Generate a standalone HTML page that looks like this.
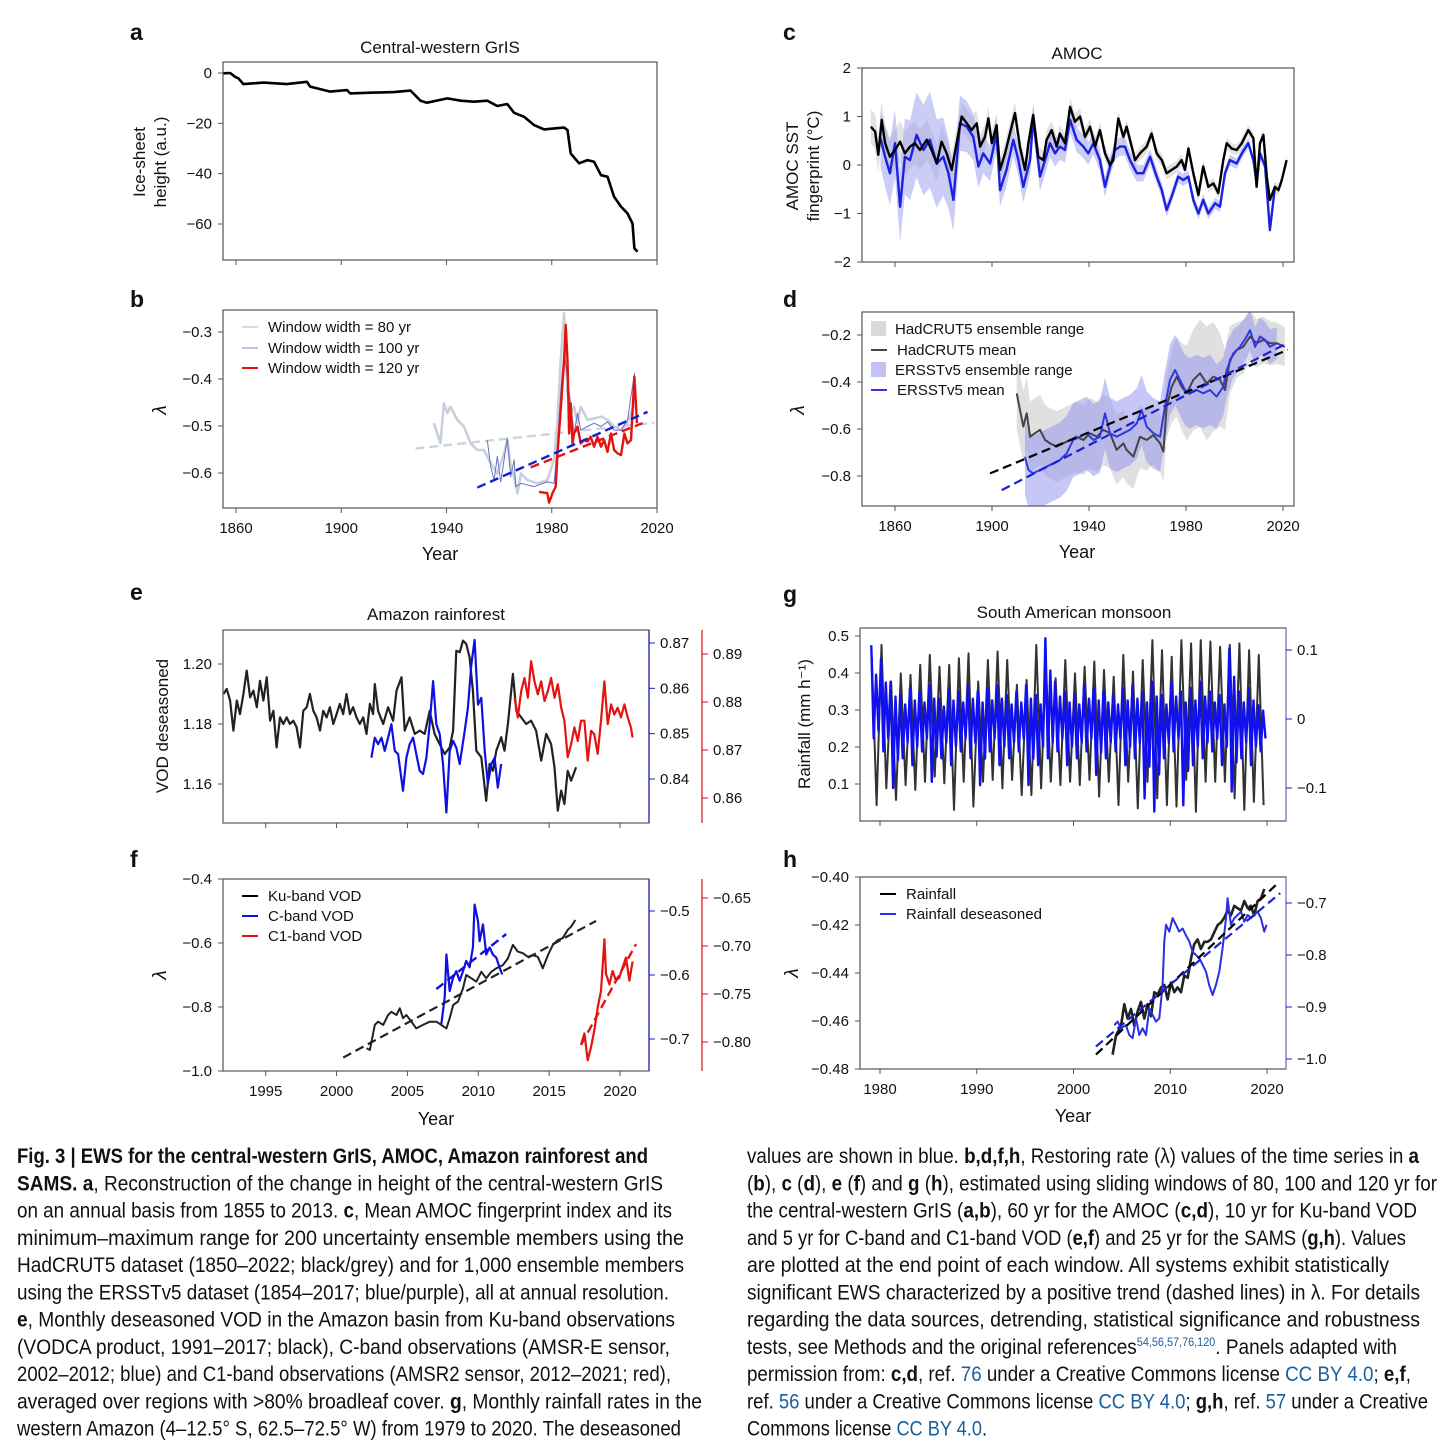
<!DOCTYPE html>
<html><head><meta charset="utf-8"><style>
html,body{margin:0;padding:0;background:#fff;}
svg{display:block;}
.tk{font-family:"Liberation Sans",sans-serif;font-size:15px;fill:#111;}
.cap{font-family:"Liberation Sans Narrow","Liberation Sans",sans-serif;font-size:21px;fill:#111;}
.lnk{fill:#1a5fa0;}
</style></head><body>
<svg id="fig" width="1456" height="1447" viewBox="0 0 1456 1447" xmlns="http://www.w3.org/2000/svg"></svg>
<script>
// ---- Panel a: ice-sheet height ----
const aYears=[1855.2,1857.8,1859.6,1860.9,1862.8,1870.4,1879.3,1886.9,1888.2,1895.8,1902.2,1903.4,1912.3,1920,1926.3,1930.1,1932.6,1940.3,1945.4,1950.4,1955.5,1959.3,1963.1,1965.7,1969.5,1973.3,1977.1,1980.9,1984.7,1986,1987.2,1990.4,1993.6,1996.1,1998.7,2001.2,2003.7,2006.3,2008.8,2010.7,2011.4,2012.6];
const aVals=[-0.1,0,-1.5,-2.1,-4.4,-3.8,-4.4,-3.5,-5.4,-7.4,-6.8,-8.1,-7.8,-7.6,-7.0,-11,-11.8,-10.1,-11,-11.4,-11,-13.1,-12.3,-15.8,-17.4,-20.7,-22.4,-22,-21.7,-22.7,-32,-35.9,-34.6,-35.3,-40.6,-41.2,-49.2,-53.1,-55.8,-59.8,-69.7,-71];
const aYTicks=[0,-20,-40,-60];
// ---- Panel b ----
const bGreyYears=[1935.2,1937.7,1939,1940.3,1941.5,1944.1,1946.6,1949.2,1951.7,1954.2,1956.8,1959.3,1961.9,1963.1,1964.4,1965.7,1967,1968.3,1970.8,1974.6,1978.3,1980.9,1982.2,1983.4,1984.7,1986,1987.2,1988.5,1989.8,1991,1993.6,1996.1,1998.7,2001.2,2003.7,2006.3,2008.8,2011.4];
const bGreyVals=[-0.494,-0.537,-0.452,-0.473,-0.459,-0.487,-0.501,-0.537,-0.551,-0.551,-0.579,-0.601,-0.558,-0.530,-0.587,-0.608,-0.643,-0.601,-0.615,-0.622,-0.615,-0.572,-0.487,-0.360,-0.260,-0.430,-0.473,-0.459,-0.494,-0.459,-0.487,-0.484,-0.480,-0.487,-0.501,-0.509,-0.494,-0.452];
const bBlueYears=[1955.5,1956.8,1958.1,1959.3,1960.6,1961.9,1963.1,1964.4,1965.7,1966.3,1968.3,1973.3,1978.3,1980.9,1982.2,1983.4,1984.7,1986,1987.2,1988.5,1989.8,1991,1993.6,1996.1,1998.7,2001.2,2003.7,2006.3,2008.8,2011.4,2012.4];
const bBlueVals=[-0.530,-0.587,-0.615,-0.565,-0.619,-0.572,-0.526,-0.608,-0.572,-0.629,-0.622,-0.629,-0.619,-0.622,-0.537,-0.430,-0.338,-0.402,-0.452,-0.516,-0.473,-0.509,-0.501,-0.494,-0.501,-0.491,-0.509,-0.509,-0.487,-0.388,-0.487];
const bRedYears=[1975.2,1978.3,1979,1980.3,1981.5,1982.2,1983.4,1984.7,1985.3,1986,1986.6,1987.2,1987.9,1988.5,1989.8,1991.0,1992.3,1993.6,1994.8,1996.1,1997.4,1998.7,1999.9,2001.2,2002.5,2003.7,2005.0,2006.3,2007.6,2008.8,2010.1,2011.4,2012.4];
const bRedVals=[-0.640,-0.643,-0.663,-0.643,-0.629,-0.558,-0.466,-0.360,-0.285,-0.360,-0.516,-0.452,-0.537,-0.516,-0.501,-0.537,-0.530,-0.533,-0.523,-0.544,-0.523,-0.544,-0.530,-0.555,-0.516,-0.551,-0.558,-0.562,-0.516,-0.537,-0.530,-0.395,-0.494];
const bTrendGrey=[[1928.2,-0.548],[2019,-0.493]];
const bTrendBlue=[[1951.7,-0.631],[2016.4,-0.470]];
const bTrendRed=[[1972,-0.588],[2014.5,-0.494]];
const bYTicks=[-0.3,-0.4,-0.5,-0.6];
const abXTicks=[1860,1900,1940,1980,2020];
// ---- Panel c ----
const cHadYears=[1850,1851.8,1853.1,1854.5,1855.9,1857.9,1860,1862.1,1864.1,1866.2,1868.2,1870.3,1873.1,1875.1,1877.2,1879.2,1881.3,1883.4,1885.4,1887.5,1889.6,1891.6,1893.7,1895.1,1897.1,1898.5,1899.9,1901.9,1903.3,1905.4,1907.4,1909.5,1911.5,1913.6,1915,1917,1919.1,1921.2,1922.5,1924.6,1926.7,1928,1930.1,1932.2,1934.2,1936.3,1938.4,1940.4,1942.5,1944.5,1946.6,1948.7,1950,1952.1,1954.2,1955.5,1957.6,1959,1961,1963.8,1965.8,1967.9,1970,1972,1974.1,1976.2,1978.2,1979.6,1981,1983,1985.1,1987.1,1989.2,1991.3,1993.3,1995.4,1996.8,1998.8,2000.9,2003,2005.7,2007.8,2009.1,2010.5,2011.9,2013.3,2014.6,2016.7,2018.1,2019.5,2021.5];
const cHadVals=[0.79,0.69,0.21,0.93,0.45,0.17,0.31,0.48,0.24,0.38,0.45,0.31,0.52,0.31,0.03,0.48,0.24,-0.10,0.45,1.00,0.86,0.72,0.86,0.38,0.58,0.96,0.45,0.82,-0.10,0.24,0.65,1.07,0.38,-0.10,0.45,1.03,0.17,0.10,0.52,0.72,0.38,0.65,0.45,1.20,0.89,1.00,0.58,0.79,0.38,0.72,0.24,0.00,0.10,0.96,0.58,0.79,0.38,0.10,0.24,0.38,0.65,0.24,0.10,-0.17,-0.10,-0.03,0.10,-0.10,0.34,-0.17,-0.62,-0.03,-0.45,-0.38,-0.58,0.10,0.45,0.34,0.31,0.45,0.72,0.55,-0.45,0.45,0.62,-0.24,-0.72,-0.45,-0.52,-0.31,0.10];
const cErsYears=[1854,1855.9,1857.9,1860,1862.1,1864.1,1866.2,1868.9,1871.7,1874.4,1877.2,1879.9,1882,1884.1,1886.8,1889.6,1892.3,1894.4,1896.4,1899.2,1901.9,1903.3,1906,1908.8,1910.9,1912.9,1915.7,1917,1919.8,1921.9,1923.9,1926,1928,1930.1,1932.2,1934.9,1937.7,1939.7,1941.8,1944.5,1946.6,1948.7,1950.7,1952.8,1954.8,1956.9,1959.7,1962.4,1965.2,1967.9,1970,1972,1974.1,1976.8,1978.9,1981,1983,1985.1,1987.1,1989.2,1992,1994,1996.1,1998.1,2000.9,2003,2005.7,2007.8,2009.1,2010.5,2012.6,2014.6,2016.7];
const cErsVals=[0.55,0.17,-0.17,0.45,-0.86,0.17,0.10,0.62,0.31,0.52,0.03,0.17,-0.17,-0.72,0.86,0.79,0.58,-0.03,0.24,0.03,0.65,-0.52,-0.10,0.52,0.10,-0.45,0.10,0.96,-0.24,0.10,0.45,0.24,0.38,0.31,0.93,0.52,0.38,0.24,0.45,0.10,-0.45,-0.03,0.31,0.38,0.38,0.10,-0.17,-0.17,0.17,-0.24,-0.52,-0.93,-0.65,-0.24,-0.31,-0.24,-0.72,-1.00,-0.72,-1.00,-0.79,-0.86,-0.17,0.10,0.03,0.24,0.45,0.10,-0.38,0.24,-0.03,-1.34,-0.45];
const cSpreadYears=[1850,1865,1875,1885,1900,1920,1950,1980,2022];
const cHadSpread=[0.35,0.45,0.4,0.3,0.25,0.2,0.15,0.12,0.1];
const cErsSpread=[0.5,0.8,1.0,0.6,0.35,0.3,0.2,0.12,0.1];
const cYTicks=[2,1,0,-1,-2];
// ---- Panel d ----
const dHadYears=[1910.2,1912.9,1914.3,1915.7,1917.7,1919.8,1921.9,1923.9,1926.7,1929.4,1932.2,1934.9,1937.7,1940.4,1943.2,1945.9,1948.7,1951.4,1954.2,1955.5,1958.3,1961,1963.8,1966.5,1969.3,1970.7,1972,1974.1,1976.2,1978.2,1980.3,1983,1985.8,1988.5,1991.3,1994,1996.1,1998.1,2000.9,2003.6,2006.4,2009.1,2011.9,2014.6,2017.4,2020.8];
const dHadVals=[-0.448,-0.590,-0.533,-0.633,-0.618,-0.604,-0.647,-0.661,-0.675,-0.661,-0.647,-0.633,-0.647,-0.618,-0.633,-0.604,-0.618,-0.689,-0.661,-0.689,-0.718,-0.633,-0.647,-0.626,-0.661,-0.696,-0.505,-0.420,-0.377,-0.420,-0.448,-0.391,-0.363,-0.406,-0.377,-0.391,-0.434,-0.306,-0.264,-0.250,-0.207,-0.235,-0.221,-0.235,-0.235,-0.250];
const dErsYears=[1913.6,1915,1917,1919.8,1922.5,1925.3,1928,1930.8,1933.5,1936.3,1939,1941.8,1944.5,1946.6,1948.7,1951.4,1954.2,1956.9,1959.7,1961.7,1963.8,1966.5,1969.3,1971.3,1973.4,1975.5,1977.5,1979.6,1981.6,1984.4,1987.1,1989.9,1992.6,1995.4,1996.8,1999.5,2002.3,2005,2006.4,2008.5,2010.5,2012.6,2014.6,2017.4];
const dErsVals=[-0.718,-0.774,-0.789,-0.774,-0.760,-0.746,-0.732,-0.704,-0.647,-0.633,-0.618,-0.647,-0.633,-0.533,-0.618,-0.633,-0.618,-0.604,-0.576,-0.519,-0.590,-0.618,-0.633,-0.505,-0.391,-0.349,-0.391,-0.434,-0.448,-0.434,-0.448,-0.434,-0.462,-0.420,-0.349,-0.278,-0.250,-0.207,-0.179,-0.250,-0.207,-0.221,-0.250,-0.235];
const dSpreadYears=[1910,1930,1950,1970,1980,1990,2000,2022];
const dHadSpread=[0.15,0.15,0.15,0.12,0.2,0.25,0.12,0.08];
const dErsSpread=[0.16,0.16,0.15,0.15,0.15,0.15,0.1,0.06];
const dTrendHad=[[1899.2,-0.789],[2022,-0.263]];
const dTrendErs=[[1904,-0.860],[2022,-0.233]];
const dYTicks=[-0.2,-0.4,-0.6,-0.8];
const cdXTicks=[1860,1900,1940,1980,2020];
// ---- Panel e ----
const eKuYears=[1992.02,1992.25,1992.49,1992.72,1992.96,1993.19,1993.43,1993.66,1993.90,1994.13,1994.37,1994.60,1994.84,1995.07,1995.31,1995.54,1995.77,1996.01,1996.24,1996.48,1996.71,1996.95,1997.18,1997.42,1997.65,1997.89,1998.12,1998.36,1998.59,1998.83,1999.06,1999.30,1999.53,1999.77,2000.00,2000.23,2000.47,2000.70,2000.94,2001.17,2001.41,2001.64,2001.88,2002.11,2002.35,2002.58,2002.70,2002.93,2003.29,2003.64,2003.99,2004.23,2004.58,2004.81,2005.16,2005.52,2005.87,2006.22,2006.57,2006.92,2007.28,2007.63,2007.98,2008.22,2008.45,2008.69,2008.92,2009.15,2009.39,2009.62,2009.86,2010.21,2010.56,2010.80,2011.03,2011.27,2011.62,2011.85,2012.09,2012.44,2012.68,2013.03,2013.38,2013.73,2014.08,2014.44,2014.79,2015.14,2015.38,2015.61,2015.85,2016.08,2016.31,2016.55,2016.90];
const eKuVals=[1.1900,1.1917,1.1878,1.1778,1.1878,1.1833,1.19,1.1978,1.1889,1.1911,1.1856,1.1944,1.1878,1.1956,1.1811,1.1844,1.1722,1.1822,1.18,1.1822,1.18,1.1811,1.1789,1.1722,1.1844,1.1856,1.19,1.1844,1.1822,1.1778,1.1844,1.1822,1.1856,1.18,1.1833,1.1867,1.1833,1.19,1.1833,1.1856,1.1822,1.18,1.1822,1.1767,1.1867,1.1833,1.1933,1.1844,1.18,1.1856,1.1811,1.1911,1.1956,1.1778,1.1822,1.1767,1.1778,1.1767,1.1844,1.1767,1.1733,1.17,1.1722,1.1778,1.2044,1.2039,1.2078,1.2067,1.2022,1.1911,1.1711,1.1689,1.1544,1.1667,1.1644,1.1711,1.1756,1.1711,1.18,1.1967,1.1844,1.1822,1.18,1.1811,1.1778,1.1678,1.1767,1.1733,1.1656,1.1511,1.1578,1.1533,1.1644,1.1611,1.1656];
const eCYears=[2002.46,2002.70,2002.93,2003.17,2003.40,2003.64,2003.87,2004.11,2004.34,2004.69,2004.93,2005.16,2005.40,2005.63,2005.87,2006.10,2006.34,2006.57,2006.81,2007.04,2007.28,2007.51,2007.75,2007.98,2008.22,2008.45,2008.69,2009.04,2009.27,2009.51,2009.74,2009.98,2010.21,2010.45,2010.68,2010.92,2011.15,2011.38,2011.62];
const eCVals=[0.8447,0.8491,0.8477,0.8491,0.8462,0.8491,0.8521,0.8462,0.8455,0.8374,0.8447,0.8477,0.8491,0.8455,0.8418,0.8411,0.8447,0.8521,0.8616,0.8521,0.8499,0.8433,0.8326,0.8462,0.8484,0.8469,0.8433,0.8506,0.8557,0.8652,0.8707,0.8564,0.8579,0.8462,0.8389,0.8433,0.8447,0.8381,0.8433];
const eC1Years=[2012.56,2012.79,2013.03,2013.26,2013.50,2013.73,2013.97,2014.20,2014.44,2014.67,2014.91,2015.14,2015.38,2015.61,2015.85,2016.08,2016.31,2016.55,2016.78,2017.02,2017.25,2017.49,2017.72,2017.96,2018.19,2018.43,2018.66,2018.90,2019.13,2019.37,2019.60,2019.84,2020.07,2020.31,2020.54,2020.77,2020.89];
const eC1Vals=[0.8809,0.8768,0.8823,0.8850,0.8809,0.8885,0.8843,0.8816,0.8843,0.8802,0.8823,0.8850,0.8809,0.8837,0.8788,0.8761,0.8685,0.8712,0.8747,0.8719,0.8761,0.8761,0.8678,0.8740,0.8733,0.8692,0.8761,0.8843,0.8754,0.8795,0.8774,0.8788,0.8768,0.8795,0.8768,0.8747,0.8726];
const eYTicks=[1.20,1.18,1.16];
const eBlueTicks=[0.87,0.86,0.85,0.84];
const eRedTicks=[0.89,0.88,0.87,0.86];
// ---- Panel f ----
const fKuYears=[2002.11,2002.35,2002.70,2002.93,2003.29,2003.64,2003.87,2004.23,2004.46,2004.69,2004.93,2005.28,2005.63,2006.10,2006.57,2007.04,2007.39,2007.75,2007.98,2008.22,2008.57,2008.92,2009.15,2009.51,2009.86,2010.21,2010.56,2010.92,2011.27,2011.74,2012.09,2012.44,2012.79,2013.15,2013.50,2013.85,2014.20,2014.55,2014.91,2015.26,2015.61,2015.96,2016.31,2016.55,2016.85];
const fKuVals=[-0.929,-0.934,-0.856,-0.846,-0.856,-0.825,-0.815,-0.825,-0.804,-0.835,-0.825,-0.846,-0.867,-0.856,-0.846,-0.846,-0.856,-0.867,-0.835,-0.794,-0.783,-0.742,-0.700,-0.710,-0.721,-0.690,-0.710,-0.690,-0.679,-0.669,-0.648,-0.606,-0.627,-0.632,-0.643,-0.638,-0.643,-0.679,-0.638,-0.606,-0.591,-0.585,-0.559,-0.549,-0.528];
const fCYears=[2007.39,2007.63,2007.75,2007.98,2008.22,2008.45,2008.69,2008.92,2009.15,2009.39,2009.62,2009.74,2009.98,2010.09,2010.33,2010.56,2010.80,2011.03,2011.27,2011.50,2011.69];
const fCVals=[-0.677,-0.635,-0.568,-0.625,-0.604,-0.594,-0.609,-0.594,-0.578,-0.588,-0.557,-0.490,-0.516,-0.547,-0.521,-0.568,-0.557,-0.568,-0.573,-0.588,-0.599];
const fC1Years=[2017.25,2017.49,2017.72,2017.96,2018.19,2018.43,2018.66,2018.90,2019.01,2019.25,2019.48,2019.72,2019.95,2020.19,2020.42,2020.66,2020.89];
const fC1Vals=[-0.803,-0.791,-0.819,-0.805,-0.788,-0.764,-0.747,-0.693,-0.729,-0.740,-0.726,-0.736,-0.733,-0.722,-0.712,-0.736,-0.716];
const fTrendKu=[[2000.47,-0.958],[2018.31,-0.531]];
const fTrendC=[[2007.04,-0.622],[2011.97,-0.536]];
const fTrendC1=[[2017.25,-0.803],[2021.13,-0.698]];
const fYTicks=[-0.4,-0.6,-0.8,-1.0];
const fBlueTicks=[-0.5,-0.6,-0.7];
const fRedTicks=[-0.65,-0.70,-0.75,-0.80];
const efXTicks=[1995,2000,2005,2010,2015,2020];
// ---- Panel g ----
const gYears=[1979,1980,1981,1982,1983,1984,1985,1986,1987,1988,1989,1990,1991,1992,1993,1994,1995,1996,1997,1998,1999,2000,2001,2002,2003,2004,2005,2006,2007,2008,2009,2010,2011,2012,2013,2014,2015,2016,2017,2018,2019];
const gPeak=[0.444,0.476,0.377,0.399,0.395,0.422,0.449,0.417,0.422,0.440,0.453,0.377,0.435,0.458,0.435,0.368,0.381,0.476,0.422,0.386,0.435,0.399,0.417,0.431,0.408,0.390,0.449,0.404,0.435,0.489,0.462,0.444,0.489,0.480,0.489,0.485,0.471,0.476,0.480,0.462,0.449];
const gTrough=[0.043,0.088,0.057,0.097,0.084,0.106,0.120,0.102,0.030,0.106,0.039,0.106,0.111,0.088,0.111,0.070,0.070,0.088,0.106,0.097,0.106,0.097,0.111,0.066,0.106,0.043,0.106,0.034,0.106,0.061,0.043,0.039,0.111,0.025,0.106,0.106,0.106,0.061,0.030,0.052,0.043];
const gDesHigh=[0.107,0.088,0.054,0.035,0.045,0.040,0.049,0.030,0.045,0.040,0.049,0.040,0.045,0.049,0.035,0.040,0.049,0.035,0.117,0.054,0.040,0.035,0.049,0.045,0.040,0.035,0.045,0.049,0.040,0.054,0.035,0.054,0.040,0.045,0.054,0.040,0.035,0.102,0.040,0.045,0.020];
const gDesLow=[-0.028,-0.047,-0.100,-0.057,-0.067,-0.047,-0.091,-0.057,-0.067,-0.047,-0.057,-0.096,-0.047,-0.067,-0.057,-0.047,-0.096,-0.067,-0.057,-0.047,-0.067,-0.057,-0.047,-0.081,-0.057,-0.047,-0.067,-0.057,-0.115,-0.134,-0.057,-0.047,-0.125,-0.067,-0.057,-0.047,-0.067,-0.105,-0.057,-0.067,-0.047];
const gYTicks=[0.5,0.4,0.3,0.2,0.1];
const gBlueTicks=[0.1,0,-0.1];
// ---- Panel h ----
const hRainYears=[2004.04,2004.39,2004.91,2005.25,2005.59,2005.94,2006.28,2006.63,2006.97,2007.32,2007.66,2008.01,2008.35,2008.69,2009.04,2009.38,2009.73,2010.07,2010.42,2010.76,2011.11,2011.45,2011.80,2012.14,2012.48,2012.83,2013.17,2013.52,2013.86,2014.21,2014.55,2014.90,2015.24,2015.58,2015.93,2016.27,2016.62,2016.96,2017.31,2017.65,2018.00,2018.34,2018.68,2019.03,2019.37,2019.72];
const hRainVals=[-0.474,-0.466,-0.462,-0.453,-0.459,-0.455,-0.462,-0.456,-0.452,-0.459,-0.453,-0.458,-0.448,-0.449,-0.446,-0.445,-0.451,-0.444,-0.448,-0.446,-0.448,-0.441,-0.442,-0.434,-0.428,-0.426,-0.430,-0.427,-0.427,-0.426,-0.423,-0.420,-0.419,-0.417,-0.414,-0.416,-0.412,-0.413,-0.414,-0.410,-0.413,-0.412,-0.416,-0.410,-0.409,-0.405];
const hDesYears=[2004.22,2004.56,2004.91,2005.42,2005.77,2006.11,2006.46,2006.80,2007.14,2007.49,2007.83,2008.18,2008.52,2008.87,2009.21,2009.38,2009.56,2009.90,2010.24,2010.59,2010.93,2011.28,2011.62,2011.97,2012.31,2012.66,2013.00,2013.35,2013.69,2014.03,2014.38,2014.72,2015.07,2015.41,2015.76,2015.93,2016.27,2016.62,2016.96,2017.31,2017.65,2018.00,2018.34,2018.68,2019.03,2019.37,2019.72,2019.96];
const hDesVals=[-0.935,-0.928,-0.941,-0.935,-0.954,-0.960,-0.922,-0.954,-0.941,-0.954,-0.903,-0.915,-0.928,-0.922,-0.858,-0.774,-0.742,-0.755,-0.729,-0.742,-0.755,-0.749,-0.762,-0.774,-0.794,-0.800,-0.806,-0.819,-0.832,-0.858,-0.877,-0.858,-0.832,-0.787,-0.729,-0.691,-0.742,-0.729,-0.723,-0.717,-0.736,-0.723,-0.729,-0.723,-0.717,-0.729,-0.755,-0.742];
const hTrendRain=[[2002.32,-0.474],[2021.27,-0.402]];
const hTrendDes=[[2002.32,-0.976],[2021.37,-0.681]];
const hYTicks=[-0.40,-0.42,-0.44,-0.46,-0.48];
const hBlueTicks=[-0.7,-0.8,-0.9,-1.0];
const ghXTicks=[1980,1990,2000,2010,2020];

const NS='http://www.w3.org/2000/svg';
const svg=document.getElementById('fig');
function scale(d0,d1,r0,r1){return v=>r0+(v-d0)*(r1-r0)/(d1-d0);}
function mk(tag,parent,name,attrs){
  const el=document.createElementNS(NS,tag);
  
  
  for(const k in attrs) el.setAttribute(k,attrs[k]);
  (parent||svg).appendChild(el);return el;
}
function txt(parent,name,x,y,s,attrs){const t=mk('text',parent,name,Object.assign({x:x,y:y},attrs||{}));t.textContent=s;return t;}
function interp(xs,ys,x){if(x<=xs[0])return ys[0];for(let i=1;i<xs.length;i++){if(x<=xs[i]){const f=(x-xs[i-1])/(xs[i]-xs[i-1]);return ys[i-1]+f*(ys[i]-ys[i-1]);}}return ys[ys.length-1];}
function fmt(v,d){if(Math.abs(v)<1e-9)return '0';let s=v.toFixed(d);return s.replace('-','\u2212');}

let clipN=0;
function panel(name,box){
  const g=mk('g',null,name,{});
  const id='clip'+(clipN++);
  const cp=mk('clipPath',g,name+'-clip',{id:id});
  mk('rect',cp,name+'-clip-rect',{x:box.x0,y:box.y0,width:box.x1-box.x0,height:box.y1-box.y0});
  const plot=mk('g',g,name+'-plot-area',{'clip-path':'url(#'+id+')'});
  return {g:g,plot:plot,box:box};
}
function frame(P,rightColor){
  const b=P.box;
  mk('rect',P.g,'plot-frame',{x:b.x0,y:b.y0,width:b.x1-b.x0,height:b.y1-b.y0,fill:'none',stroke:'#555','stroke-width':1.2});
  if(rightColor) mk('line',P.g,'right-axis-line',{x1:b.x1,y1:b.y0,x2:b.x1,y2:b.y1,stroke:rightColor,'stroke-width':1.2});
}
function yAxis(P,ticks,sy,dec){
  ticks.forEach(v=>{const y=sy(v);
    mk('line',P.g,'y-tick',{x1:P.box.x0-5,y1:y,x2:P.box.x0,y2:y,stroke:'#555','stroke-width':1});
    txt(P.g,'y-tick-label',P.box.x0-11,y+5,fmt(v,dec),{class:'tk','text-anchor':'end'});});
}
function xAxis(P,ticks,sx,labels){
  ticks.forEach(v=>{const x=sx(v);
    mk('line',P.g,'x-tick',{x1:x,y1:P.box.y1,x2:x,y2:P.box.y1+5,stroke:'#555','stroke-width':1});
    if(labels) txt(P.g,'x-tick-label',x,P.box.y1+25,String(v),{class:'tk','text-anchor':'middle'});});
}
function rAxis(P,ax,ticks,sy,dec,color){
  if(ax!==P.box.x1) mk('line',P.g,'secondary-axis-line',{x1:ax,y1:P.box.y0,x2:ax,y2:P.box.y1,stroke:color,'stroke-width':1.2});
  ticks.forEach(v=>{const y=sy(v);
    mk('line',P.g,'secondary-tick',{x1:ax,y1:y,x2:ax+6,y2:y,stroke:color,'stroke-width':1});
    txt(P.g,'secondary-tick-label',ax+11,y+5,fmt(v,dec),{class:'tk','text-anchor':'start',fill:color});});
}
function series(P,name,xs,ys,sx,sy,color,w,dash){
  const pts=xs.map((x,i)=>sx(x).toFixed(1)+','+sy(ys[i]).toFixed(1)).join(' ');
  const a={points:pts,fill:'none',stroke:color,'stroke-width':w,'stroke-linejoin':'round'};
  if(dash) a['stroke-dasharray']=dash;
  return mk('polyline',P.plot,name,a);
}
function trend(P,name,seg,sx,sy,color,w){
  return mk('line',P.plot,name,{x1:sx(seg[0][0]),y1:sy(seg[0][1]),x2:sx(seg[1][0]),y2:sy(seg[1][1]),stroke:color,'stroke-width':w||2.2,'stroke-dasharray':'9,5'});
}
function band(P,name,xs,ys,sYears,spread,sx,sy,color,op){
  const up=xs.map((x,i)=>sx(x).toFixed(1)+','+sy(ys[i]+interp(sYears,spread,x)).toFixed(1));
  const lo=xs.map((x,i)=>sx(x).toFixed(1)+','+sy(ys[i]-interp(sYears,spread,x)).toFixed(1)).reverse();
  return mk('polygon',P.plot,name,{points:up.concat(lo).join(' '),fill:color,'fill-opacity':op,stroke:'none'});
}
function letter(s,x,y){txt(null,'panel-label-'+s,x,y,s,{'font-family':'Liberation Sans,sans-serif','font-size':'23','font-weight':'bold',fill:'#111'});}
function title(s,x,y){txt(null,'panel-title',x,y,s,{'font-family':'Liberation Sans,sans-serif','font-size':'17',fill:'#111','text-anchor':'middle'});}
function ylab(lines,x,y,name,italic){
  const t=mk('text',null,name,{transform:'translate('+x+','+y+') rotate(-90)','font-family':'Liberation Sans,sans-serif','font-size':italic?'19':'17',fill:'#111','text-anchor':'middle','font-style':italic?'italic':'normal'});
  lines.forEach((l,i)=>{const ts=mk('tspan',t,name+'-line',{x:0,dy:i?21:0});ts.textContent=l;});
}
function xlab(x,y){txt(null,'x-axis-title',x,y,'Year',{'font-family':'Liberation Sans,sans-serif','font-size':'18',fill:'#111','text-anchor':'middle'});}
function legendLine(P,x,y,color,label,w){mk('line',P.g,'legend-swatch',{x1:x,y1:y,x2:x+16,y2:y,stroke:color,'stroke-width':w||2});txt(P.g,'legend-entry',x+26,y+5,label,{class:'tk'});}
function legendBox(P,x,y,color,op,label){mk('rect',P.g,'legend-swatch',{x:x,y:y-8,width:15,height:15,fill:color,'fill-opacity':op});txt(P.g,'legend-entry',x+24,y+5,label,{class:'tk'});}

// ===== a =====
let sxAB=scale(1860,2020,236,657);
let A=panel('panel-a',{x0:223,y0:62,x1:657,y1:260});
let syA=scale(0,-60,73,224);
series(A,'ice-sheet-height-line',aYears,aVals,sxAB,syA,'#000',2.6);
frame(A);yAxis(A,aYTicks,syA,0);xAxis(A,abXTicks,sxAB,false);
letter('a',130,40);title('Central-western GrIS',440,53);ylab(['Ice-sheet','height (a.u.)'],145,162,'y-axis-title-a');
// ===== b =====
let B=panel('panel-b',{x0:223,y0:310,x1:657,y1:508});
let syB=scale(-0.3,-0.6,332,473);
trend(B,'trend-80yr',bTrendGrey,sxAB,syB,'#cdd3dd',2.4);
series(B,'window-80yr-line',bGreyYears,bGreyVals,sxAB,syB,'#c9d0dc',2.6);
series(B,'window-100yr-line',bBlueYears,bBlueVals,sxAB,syB,'#6a72c8',1);
series(B,'window-120yr-line',bRedYears,bRedVals,sxAB,syB,'#e3140f',2.4);
trend(B,'trend-100yr',bTrendBlue,sxAB,syB,'#1020d0',2.4);
trend(B,'trend-120yr',bTrendRed,sxAB,syB,'#e3140f',2.4);
frame(B);yAxis(B,bYTicks,syB,1);xAxis(B,abXTicks,sxAB,true);
legendLine(B,242,327,'#c9d0dc','Window width = 80 yr',1.5);
legendLine(B,242,348,'#8088d8','Window width = 100 yr',1);
legendLine(B,242,368,'#e3140f','Window width = 120 yr',2);
letter('b',130,307);ylab(['\u03bb'],166,410,'y-axis-title-b',true);xlab(440,560);
// ===== c =====
let sxCD=scale(1860,2020,895,1283);
let C=panel('panel-c',{x0:862,y0:68,x1:1294,y1:262});
let syC=scale(2,-2,68,262);
band(C,'hadcrut5-range-band',cHadYears,cHadVals,cSpreadYears,cHadSpread,sxCD,syC,'#cfcfcf',0.6);
band(C,'ersstv5-range-band',cErsYears,cErsVals,cSpreadYears,cErsSpread,sxCD,syC,'#9a9cf0',0.5);
series(C,'ersstv5-mean-line',cErsYears,cErsVals,sxCD,syC,'#1a22e0',2.4);
series(C,'hadcrut5-mean-line',cHadYears,cHadVals,sxCD,syC,'#000',2.4);
frame(C);yAxis(C,cYTicks,syC,0);xAxis(C,cdXTicks,sxCD,false);
letter('c',783,40);title('AMOC',1077,59);ylab(['AMOC SST','fingerprint (\u00b0C)'],798,166,'y-axis-title-c');
// ===== d =====
let D=panel('panel-d',{x0:862,y0:312,x1:1294,y1:506});
let syD=scale(-0.2,-0.8,335,476);
band(D,'hadcrut5-range-band-d',dHadYears,dHadVals,dSpreadYears,dHadSpread,sxCD,syD,'#d6d6d6',0.75);
band(D,'ersstv5-range-band-d',dErsYears,dErsVals,dSpreadYears,dErsSpread,sxCD,syD,'#8e90f0',0.5);
series(D,'hadcrut5-mean-line-d',dHadYears,dHadVals,sxCD,syD,'#444',2);
series(D,'ersstv5-mean-line-d',dErsYears,dErsVals,sxCD,syD,'#3038e0',2);
trend(D,'hadcrut5-trend',dTrendHad,sxCD,syD,'#000',2.2);
trend(D,'ersstv5-trend',dTrendErs,sxCD,syD,'#1a22d0',2.2);
frame(D);yAxis(D,dYTicks,syD,1);xAxis(D,cdXTicks,sxCD,true);
legendBox(D,871,329,'#cfcfcf',0.8,'HadCRUT5 ensemble range');
legendLine(D,871,350,'#444','HadCRUT5 mean',2);
legendBox(D,871,370,'#8e90f0',0.55,'ERSSTv5 ensemble range');
legendLine(D,871,390,'#3038e0','ERSSTv5 mean',2);
letter('d',783,307);ylab(['\u03bb'],804,410,'y-axis-title-d',true);xlab(1077,558);
// ===== e =====
let sxEF=scale(1995,2020,265.7,620);
let E=panel('panel-e',{x0:223,y0:630,x1:649,y1:823});
let syE=scale(1.20,1.16,664,784),syEb=scale(0.87,0.84,643,779),syEr=scale(0.89,0.86,654,798);
series(E,'ku-band-vod-line',eKuYears,eKuVals,sxEF,syE,'#222',2.2);
series(E,'c-band-vod-line',eCYears,eCVals,sxEF,syEb,'#1010e0',2.2);
series(E,'c1-band-vod-line',eC1Years,eC1Vals,sxEF,syEr,'#e3140f',2.2);
frame(E,'#1a22b0');yAxis(E,eYTicks,syE,2);xAxis(E,efXTicks,sxEF,false);
rAxis(E,649,eBlueTicks,syEb,2,'#1a22b0');rAxis(E,702,eRedTicks,syEr,2,'#d01010');
letter('e',130,600);title('Amazon rainforest',436,620);ylab(['VOD deseasoned'],168,726,'y-axis-title-e');
// ===== f =====
let F=panel('panel-f',{x0:223,y0:879,x1:649,y1:1071});
let syF=scale(-0.4,-1.0,879,1071),syFb=scale(-0.5,-0.7,911,1039),syFr=scale(-0.65,-0.80,898,1042);
series(F,'ku-band-lambda-line',fKuYears,fKuVals,sxEF,syF,'#222',2);
series(F,'c-band-lambda-line',fCYears,fCVals,sxEF,syFb,'#1010e0',2.2);
series(F,'c1-band-lambda-line',fC1Years,fC1Vals,sxEF,syFr,'#e3140f',2.2);
trend(F,'ku-band-trend',fTrendKu,sxEF,syF,'#222',2.2);
trend(F,'c-band-trend',fTrendC,sxEF,syFb,'#1010e0',2.4);
trend(F,'c1-band-trend',fTrendC1,sxEF,syFr,'#e3140f',2.4);
frame(F,'#1a22b0');yAxis(F,fYTicks,syF,1);xAxis(F,efXTicks,sxEF,true);
rAxis(F,649,fBlueTicks,syFb,1,'#1a22b0');rAxis(F,702,fRedTicks,syFr,2,'#d01010');
legendLine(F,242,896,'#000','Ku-band VOD',2);legendLine(F,242,916,'#1010e0','C-band VOD',2);legendLine(F,242,936,'#e3140f','C1-band VOD',2);
letter('f',130,867);ylab(['\u03bb'],166,975,'y-axis-title-f',true);xlab(436,1125);
// ===== g =====
let sxGH=scale(1980,2020,880,1267);
let G=panel('panel-g',{x0:860,y0:628,x1:1286,y1:821});
let syG=scale(0.5,0.1,636,784),syGb=scale(0.1,-0.1,650,788);
const gRainX=[],gRainY=[],gDesX=[],gDesY=[];
gYears.forEach((y,i)=>{gRainX.push(y+0.15,y+0.65);gRainY.push(gPeak[i],gTrough[i]);gDesX.push(y+0.1,y+0.35,y+0.6,y+0.85);gDesY.push(gDesHigh[i],gDesLow[i],gDesHigh[i]*0.6,gDesLow[i]*0.6);});
series(G,'rainfall-line',gRainX,gRainY,sxGH,syG,'#333',2);
series(G,'rainfall-deseasoned-line',gDesX,gDesY,sxGH,syGb,'#1010f0',2.4);
frame(G,'#8080e0');yAxis(G,gYTicks,syG,1);xAxis(G,ghXTicks,sxGH,false);
rAxis(G,1286,gBlueTicks,syGb,1,'#1a22b0');
letter('g',783,602);title('South American monsoon',1074,618);ylab(['Rainfall (mm h\u207b\u00b9)'],810,724,'y-axis-title-g');
// ===== h =====
let H=panel('panel-h',{x0:860,y0:877,x1:1286,y1:1069});
let syH=scale(-0.40,-0.48,877,1069),syHb=scale(-0.7,-1.0,903,1059);
series(H,'rainfall-lambda-line',hRainYears,hRainVals,sxGH,syH,'#222',2.6);
series(H,'rainfall-deseasoned-lambda-line',hDesYears,hDesVals,sxGH,syHb,'#2a30e0',2);
trend(H,'rainfall-trend',hTrendRain,sxGH,syH,'#000',2.2);
trend(H,'deseasoned-trend',hTrendDes,sxGH,syHb,'#1a22d0',2.2);
frame(H,'#8080e0');yAxis(H,hYTicks,syH,2);xAxis(H,ghXTicks,sxGH,true);
rAxis(H,1286,hBlueTicks,syHb,1,'#1a22b0');
legendLine(H,880,894,'#000','Rainfall',2);legendLine(H,880,914,'#2a30e0','Rainfall deseasoned',2);
letter('h',783,867);ylab(['\u03bb'],798,973,'y-axis-title-h',true);xlab(1073,1122);

// ===== caption =====
const capLeft=[
 [[['Fig. 3 | EWS for the central-western GrIS, AMOC, Amazon rainforest and','b']],648],
 [[['SAMS. a','b'],[', Reconstruction of the change in height of the central-western GrIS','']],663],
 [[['on an annual basis from 1855 to 2013. ',''],['c','b'],[', Mean AMOC fingerprint index and its','']],672],
 [[['minimum\u2013maximum range for 200 uncertainty ensemble members using the','']],684],
 [[['HadCRUT5 dataset (1850\u20132022; black/grey) and for 1,000 ensemble members','']],684],
 [[['using the ERSSTv5 dataset (1854\u20132017; blue/purple), all at annual resolution.','']],669],
 [[['e','b'],[', Monthly deseasoned VOD in the Amazon basin from Ku-band observations','']],675],
 [[['(VODCA product, 1991\u20132017; black), C-band observations (AMSR-E sensor,','']],670],
 [[['2002\u20132012; blue) and C1-band observations (AMSR2 sensor, 2012\u20132021; red),','']],671],
 [[['averaged over regions with >80% broadleaf cover. ',''],['g','b'],[', Monthly rainfall rates in the','']],702],
 [[['western Amazon (4\u201312.5\u00b0 S, 62.5\u201372.5\u00b0 W) from 1979 to 2020. The deseasoned','']],681]];
const capRight=[
 [[['values are shown in blue. ',''],['b,d,f,h','b'],[', Restoring rate (\u03bb) values of the time series in ',''],['a','b']],1419],
 [[['(',''],['b','b'],['), ',''],['c','b'],[' (',''],['d','b'],['), ',''],['e','b'],[' (',''],['f','b'],[') and ',''],['g','b'],[' (',''],['h','b'],['), estimated using sliding windows of 80, 100 and 120 yr for','']],1437],
 [[['the central-western GrIS (',''],['a,b','b'],['), 60 yr for the AMOC (',''],['c,d','b'],['), 10 yr for Ku-band VOD','']],1417],
 [[['and 5 yr for C-band and C1-band VOD (',''],['e,f','b'],[') and 25 yr for the SAMS (',''],['g,h','b'],['). Values','']],1406],
 [[['are plotted at the end point of each window. All systems exhibit statistically','']],1389],
 [[['significant EWS characterized by a positive trend (dashed lines) in \u03bb. For details','']],1420],
 [[['regarding the data sources, detrending, statistical significance and robustness','']],1420],
 [[['tests, see Methods and the original references',''],['54,56,57,76,120','sup'],['. Panels adapted with','']],1397],
 [[['permission from: ',''],['c,d','b'],[', ref. ',''],['76','l'],[' under a Creative Commons license ',''],['CC BY 4.0','l'],['; ',''],['e,f','b'],[',','']],1411],
 [[['ref. ',''],['56','l'],[' under a Creative Commons license ',''],['CC BY 4.0','l'],['; ',''],['g,h','b'],[', ref. ',''],['57','l'],[' under a Creative','']],1428],
 [[['Commons license ',''],['CC BY 4.0','l'],['.','']],987]];
function capCol(lines,x0,name){
  lines.forEach((ln,i)=>{
    const y=1163+i*27.25;
    const t=mk('text',null,name,{x:x0,y:y,class:'cap',textLength:ln[1]-x0,lengthAdjust:'spacingAndGlyphs'});
    let afterSup=false;
    ln[0].forEach(seg=>{
      const a={};
      if(seg[1]==='b'){a['font-weight']='bold';}
      if(seg[1]==='l'){a['class']='lnk';}
      if(seg[1]==='sup'){a['font-size']='12';a['dy']='-8';a['class']='lnk';}
      if(afterSup){a['dy']='8';afterSup=false;}
      const ts=mk('tspan',t,name+'-span',a);ts.textContent=seg[0];
      if(seg[1]==='sup'){afterSup=true;}
      if(seg[1]==='l'){}
    });
  });
}
capCol(capLeft,17,'caption-left-line');
capCol(capRight,747,'caption-right-line');
</script>
</body></html>
